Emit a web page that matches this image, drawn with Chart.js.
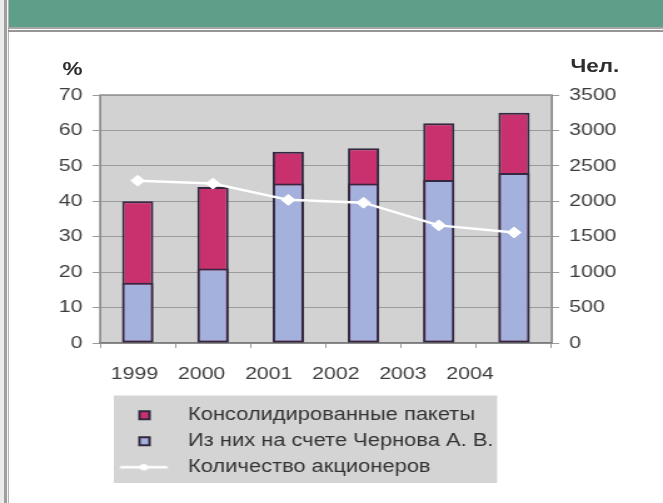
<!DOCTYPE html>
<html>
<head>
<meta charset="utf-8">
<script src="https://cdn.jsdelivr.net/npm/chart.js@4/dist/chart.umd.min.js"></script>
<style>
  html, body { margin: 0; padding: 0; background: #ffffff; }
  body { width: 663px; height: 503px; position: relative; overflow: hidden;
         font-family: "Liberation Sans", Arial, sans-serif; }
  .edge { position: absolute; top: 0; height: 503px; }
  .edge.a { left: 0; width: 4px; background: #ebebeb; }
  .edge.b { left: 4px; width: 3px; background: #9f9f9f; }
  .edge.c { left: 7px; width: 1px; background: #f4f4f4; }
  .edge.d { left: 8px; width: 1px; background: #b3b3b3; }
  .head { position: absolute; left: 9px; top: 0; right: 0; height: 27px; background: #5f9f89; }
  .rule { position: absolute; left: 8px; right: 0; }
  .rule.one { top: 27px; height: 2px; background: #a6a6a6; }
  .rule.two { top: 30px; height: 2px; background: #959595; }
  /* the drawing is laid out on a 530px-wide stage and widened to the page */
  #stage { position: absolute; left: 0; top: 0; width: 530px; height: 503px;
           transform: scaleX(1.250943); transform-origin: 0 0; }
  #stage canvas { position: absolute; left: 0; top: 0; }
  .unit { position: absolute; font-weight: bold; font-size: 18px; line-height: 18px;
          color: #2e2e2e; transform: translateY(-50%); white-space: nowrap; }
</style>
</head>
<body>
<div class="edge a"></div><div class="edge b"></div><div class="edge c"></div><div class="edge d"></div>
<div class="head"></div>
<div class="rule one"></div><div class="rule two"></div>

<div id="stage">
  <canvas id="chart" width="530" height="503"></canvas>
  <div class="unit" style="right:464px; top:69px; text-align:right;">%</div>
  <div class="unit" style="left:456px; top:66px;">Чел.</div>
</div>

<script>
// Years on the horizontal axis
const years = ['1999', '2000', '2001', '2002', '2003', '2004'];
// Consolidated stakes, % (full bar height)
const consolidated = [40, 44, 54, 55, 62, 65];
// Of which held on Chernov's account, % (lower part of the bar)
const chernov = [17, 21, 45, 45, 46, 48];
// Number of shareholders, persons (right axis)
const shareholders = [2290, 2250, 2020, 1980, 1660, 1560];

// Axis tick values
const percentTicks = [0, 10, 20, 30, 40, 50, 60, 70];
const peopleTicks = [0, 500, 1000, 1500, 2000, 2500, 3000, 3500];

// Series names
const seriesNames = ['Консолидированные пакеты', 'Из них на счете Чернова А. В.', 'Количество акционеров'];

const MAGENTA = '#c8306e';
const LAVENDER = '#a3b1dc';
const BAR_EDGE = '#33283f';
const TICK_COLOR = '#3d3d3d';
const GRID = '#9a9a9a';

Chart.defaults.font.family = '"Liberation Sans", Arial, sans-serif';

// Small legend glyphs: framed squares for bars, line with a dot for the line series
function squareGlyph(fill) {
  const c = document.createElement('canvas');
  c.width = 53; c.height = 16;
  const g = c.getContext('2d');
  g.fillStyle = fill;
  g.fillRect(22, 3, 10, 10);
  g.strokeStyle = BAR_EDGE;
  g.lineWidth = 2;
  g.strokeRect(23, 4, 8, 8);
  return c;
}
function lineGlyph() {
  const c = document.createElement('canvas');
  c.width = 53; c.height = 16;
  const g = c.getContext('2d');
  g.strokeStyle = '#ffffff';
  g.lineWidth = 2.5;
  g.beginPath(); g.moveTo(7.5, 8); g.lineTo(45.5, 8); g.stroke();
  g.fillStyle = '#ffffff';
  g.beginPath(); g.arc(26.5, 8, 3.2, 0, Math.PI * 2); g.fill();
  return c;
}
const legendGlyphs = [squareGlyph(MAGENTA), squareGlyph(LAVENDER), lineGlyph()];

// Grey plot panel and grey legend panel
const panels = {
  id: 'panels',
  beforeDraw(chart) {
    const { ctx, chartArea: a } = chart;
    ctx.save();
    ctx.fillStyle = '#d2d2d2';
    ctx.fillRect(a.left, a.top, a.right - a.left, a.bottom - a.top);
    ctx.strokeStyle = '#8d8d8d';
    ctx.lineWidth = 1.5;
    ctx.strokeRect(a.left, a.top, a.right - a.left, a.bottom - a.top);

    const lg = chart.legend;
    if (lg && lg.legendHitBoxes && lg.legendHitBoxes.length) {
      const hb = lg.legendHitBoxes;
      const x0 = Math.min(...hb.map(h => h.left)) + 2.5;
      const x1 = Math.max(...hb.map(h => h.left + h.width)) + 3;
      const y0 = Math.min(...hb.map(h => h.top)) - 11;
      const y1 = Math.max(...hb.map(h => h.top + h.height)) + 7;
      ctx.fillStyle = '#d4d4d4';
      ctx.fillRect(x0, y0, x1 - x0, y1 - y0);
    }
    ctx.restore();
  }
};

new Chart(document.getElementById('chart'), {
  type: 'bar',
  data: {
    labels: years,
    datasets: [
      {
        label: seriesNames[0],
        data: consolidated,
        backgroundColor: MAGENTA,
        borderColor: BAR_EDGE,
        borderWidth: 2,
        borderSkipped: false,
        xAxisID: 'x', yAxisID: 'y',
        grouped: false,
        categoryPercentage: 1,
        barPercentage: 0.415,
        order: 2
      },
      {
        label: seriesNames[1],
        data: chernov,
        backgroundColor: LAVENDER,
        borderColor: BAR_EDGE,
        borderWidth: 2,
        borderSkipped: false,
        xAxisID: 'x', yAxisID: 'y',
        grouped: false,
        categoryPercentage: 1,
        barPercentage: 0.415,
        order: 1
      },
      {
        type: 'line',
        label: seriesNames[2],
        data: shareholders,
        borderColor: '#ffffff',
        borderWidth: 2.5,
        pointStyle: 'rectRot',
        pointRadius: 5.5,
        pointBackgroundColor: '#ffffff',
        pointBorderColor: '#ffffff',
        pointBorderWidth: 1,
        tension: 0,
        xAxisID: 'x', yAxisID: 'y2',
        order: 0
      }
    ]
  },
  options: {
    responsive: false,
    animation: false,
    events: [],
    layout: { padding: { top: 95, bottom: 17, left: 0, right: 0 } },
    plugins: {
      tooltip: { enabled: false },
      title: { display: false },
      legend: {
        display: true,
        position: 'bottom',
        align: 'start',
        fullSize: false,
        labels: {
          usePointStyle: true,
          pointStyleWidth: 53,
          boxHeight: 14,
          padding: 8.5,
          color: '#333333',
          font: { size: 17.5 },
          sort: (a, b) => a.datasetIndex - b.datasetIndex,
          generateLabels(chart) {
            return chart.data.datasets.map((ds, i) => ({
              text: ds.label,
              datasetIndex: i,
              pointStyle: legendGlyphs[i],
              rotation: 0,
              fillStyle: 'rgba(0,0,0,0)',
              strokeStyle: 'rgba(0,0,0,0)',
              lineWidth: 0,
              hidden: false,
              fontColor: '#333333'
            }));
          }
        }
      }
    },
    scales: {
      x: {
        type: 'category',
        position: 'bottom',
        weight: 0,
        offset: true,
        grid: { display: true, drawOnChartArea: false, offset: true, drawTicks: true, tickLength: 5, color: GRID },
        border: { display: true, color: '#7c7c7c', width: 1.5 },
        ticks: { display: false },
        afterFit(s) { s.height = 5; }
      },
      x2: {
        type: 'linear',
        position: 'bottom',
        weight: 1,
        offset: false,
        bounds: 'data',
        min: -0.513,
        max: 6.217,
        grid: { display: false, drawTicks: false, offset: false },
        border: { display: false },
        afterBuildTicks(s) { s.ticks = years.map((_, i) => ({ value: i })); },
        ticks: {
          autoSkip: false,
          maxRotation: 0,
          padding: 16,
          color: TICK_COLOR,
          font: { size: 17 },
          callback: (v) => years[v]
        },
        afterFit(s) { s.height = 50; }
      },
      y: {
        type: 'linear',
        position: 'left',
        min: 0,
        max: 70,
        afterBuildTicks(s) { s.ticks = percentTicks.map(v => ({ value: v })); },
        grid: { color: GRID, drawTicks: true, tickLength: 6, tickColor: GRID },
        border: { display: true, color: '#8d8d8d' },
        ticks: { padding: 8, color: TICK_COLOR, font: { size: 17 }, callback: (v) => String(v) },
        afterFit(s) { s.width = 80; }
      },
      y2: {
        type: 'linear',
        position: 'right',
        min: 0,
        max: 3500,
        afterBuildTicks(s) { s.ticks = peopleTicks.map(v => ({ value: v })); },
        grid: { drawOnChartArea: false, drawTicks: true, tickLength: 6, color: GRID },
        border: { display: true, color: '#8d8d8d' },
        ticks: { padding: 8, color: TICK_COLOR, font: { size: 17 }, callback: (v) => String(v) },
        afterFit(s) { s.width = 89; }
      }
    }
  },
  plugins: [panels]
});
</script>
</body>
</html>
